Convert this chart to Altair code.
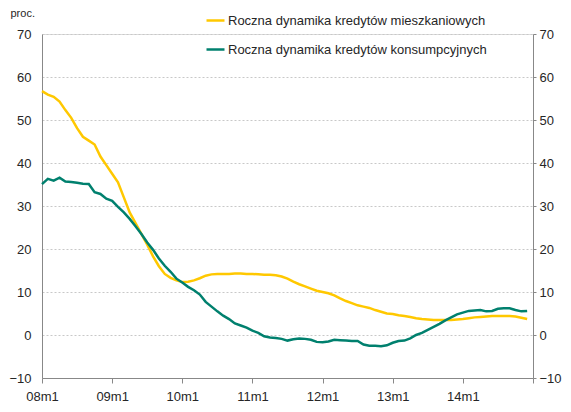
import altair as alt
import pandas as pd

year_labels = ["08m1", "09m1", "10m1", "11m1", "12m1", "13m1", "14m1", ""]
series_names = ["Roczna dynamika kredytów mieszkaniowych",
                "Roczna dynamika kredytów konsumpcyjnych"]

mortgage = [
    56.7, 55.9, 55.4, 54.3, 52.3, 50.5, 48.1, 46.1, 45.2, 44.3, 41.5, 39.5,
    37.5, 35.5, 32.0, 28.5, 26.0, 23.5, 21.0, 18.3, 16.0, 14.2, 13.3, 12.7,
    12.3, 12.4, 12.7, 13.2, 13.8, 14.1, 14.2, 14.2, 14.2, 14.3, 14.3, 14.2,
    14.2, 14.1, 14.0, 14.0, 13.9, 13.6, 13.1, 12.4, 11.8, 11.3, 10.8, 10.3,
    10.0, 9.7, 9.2, 8.5, 7.9, 7.4, 6.9, 6.6, 6.3, 5.8, 5.4, 5.0,
    4.9, 4.6, 4.4, 4.2, 3.9, 3.7, 3.6, 3.5, 3.5, 3.5, 3.5, 3.6,
    3.7, 3.9, 4.1, 4.2, 4.3, 4.4, 4.4, 4.4, 4.4, 4.3, 4.0, 3.7,
]
consumer = [
    35.1, 36.3, 35.9, 36.6, 35.7, 35.6, 35.4, 35.2, 35.1, 33.2, 32.8, 31.7,
    31.2, 29.8, 28.5, 27.0, 25.3, 23.5, 21.5, 19.8, 17.8, 16.1, 14.7, 13.1,
    12.2, 11.2, 10.4, 9.4, 7.7, 6.6, 5.5, 4.5, 3.7, 2.7, 2.2, 1.7,
    1.0, 0.5, -0.3, -0.6, -0.7, -0.9, -1.3, -1.0, -0.8, -0.9, -1.1, -1.6,
    -1.7, -1.5, -1.1, -1.2, -1.3, -1.4, -1.4, -2.2, -2.5, -2.5, -2.6, -2.4,
    -1.8, -1.4, -1.3, -0.8, 0.0, 0.5, 1.2, 1.9, 2.6, 3.4, 4.1, 4.8,
    5.2, 5.6, 5.7, 5.8, 5.5, 5.6, 6.1, 6.2, 6.2, 5.8, 5.5, 5.6,
]

months = list(range(len(mortgage)))
df_m = pd.DataFrame({"t": months, "v": mortgage, "s": series_names[0]})
df_c = pd.DataFrame({"t": months, "v": consumer, "s": series_names[1]})

label_expr = "[" + ",".join("'%s'" % l for l in year_labels) + "][datum.value/12]"
FONT = "Liberation Sans"
TXT = "#262626"

color_scale = alt.Scale(domain=series_names, range=["#FFC800", "#00806E"])
x_enc = alt.X("t:Q", scale=alt.Scale(domain=[0, 84], nice=False, zero=False),
              axis=alt.Axis(values=list(range(0, 85, 12)), labelExpr=label_expr,
                            title=None, grid=False, domainColor="#888888",
                            tickColor="#888888", tickSize=5, labelPadding=7,
                            labelFlush=False, labelOverlap=False,
                            labelFontSize=13, labelColor=TXT,
                            labelFont=FONT, labelFontWeight="normal"))
y_scale = alt.Scale(domain=[-10, 70], nice=False, zero=False)
y_vals = list(range(-10, 71, 10))

color_enc = alt.Color("s:N", scale=color_scale,
                      legend=alt.Legend(title=None, orient="none", legendX=163,
                                        legendY=-24, symbolType="stroke",
                                        symbolSize=324, symbolStrokeWidth=2.5,
                                        labelFontSize=13, labelFont=FONT,
                                        labelColor=TXT, labelLimit=400,
                                        rowPadding=11, labelOffset=2))

left_axis = alt.Axis(values=y_vals, orient="left", title="proc.", titleAngle=0,
                     titleAlign="left", titleBaseline="middle", titleX=-32, titleY=-21,
                     titleFontSize=11, titleFontWeight="normal", titleColor=TXT,
                     titleFont=FONT,
                     grid=True, gridColor="#c8c8c8", gridDash=[2, 2], gridWidth=1,
                     ticks=False, domainColor="#888888", labelPadding=11,
                     labelFontSize=13, labelColor=TXT, labelFont=FONT,
                     labelFontWeight="normal")
right_axis = alt.Axis(values=y_vals, orient="right", title=None, grid=False,
                      tickSize=3, tickColor="#888888", domainColor="#888888",
                      labelPadding=3, labelFontSize=13, labelColor=TXT,
                      labelFont=FONT, labelFontWeight="normal")

line_m = alt.Chart(df_m).mark_line(strokeWidth=2.5).encode(
    x=x_enc, y=alt.Y("v:Q", scale=y_scale, axis=left_axis), color=color_enc)
line_c = alt.Chart(df_c).mark_line(strokeWidth=2.5).encode(
    x=x_enc, y=alt.Y("v:Q", scale=y_scale), color=color_enc)
right = alt.Chart(df_m).mark_line(opacity=0).encode(
    x=x_enc, y=alt.Y("v:Q", scale=y_scale, axis=right_axis))

lines = alt.layer(line_m, line_c)
chart = alt.layer(lines, right).resolve_scale(y="independent").properties(
    width=491, height=344,
    autosize=alt.AutoSizeParams(type="none"),
    padding={"left": 34, "top": 26, "right": 30, "bottom": 26},
).configure_view(stroke=None).configure(background="white")

chart.save("out.html", embed_options={"renderer": "svg", "actions": False})
